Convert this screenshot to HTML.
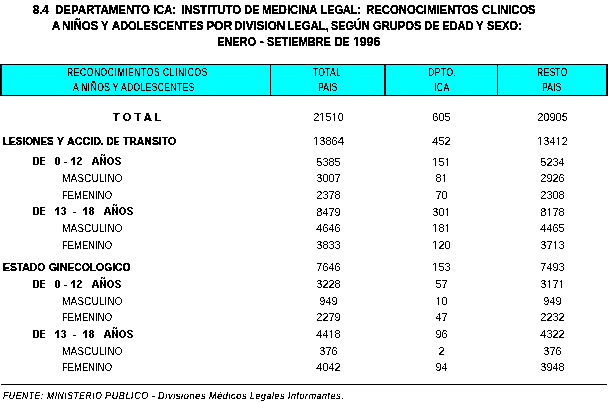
<!DOCTYPE html>
<html><head><meta charset="utf-8"><style>
html,body{margin:0;padding:0;background:#fff;}
body{width:608px;height:402px;position:relative;overflow:hidden;font-family:"Liberation Sans",sans-serif;color:#000;}
div{position:absolute;white-space:pre;transform-origin:0 0;}
.g{left:0;top:0;width:608px;height:402px;}
.ttl{font-weight:bold;font-size:12px;line-height:16px;-webkit-text-stroke:0.2px #000;}
.hd{font-size:10px;line-height:12px;}
.num{font-size:11px;line-height:14px;width:0;display:flex;justify-content:center;}
.lb{font-weight:bold;font-size:11px;line-height:14px;-webkit-text-stroke:0.2px #000;}
.sx{font-size:11px;line-height:14px;}
.ft{font-style:italic;font-size:10px;line-height:12px;text-rendering:geometricPrecision;}
</style></head><body>
<svg width="0" height="0" style="position:absolute"><filter id="tB" x="0" y="0" width="100%" height="100%" color-interpolation-filters="sRGB"><feFlood flood-color="#fff" result="w"/><feComposite in="SourceGraphic" in2="w" operator="over" result="c"/><feComponentTransfer in="c"><feFuncR type="discrete" tableValues="0 0 0 0 0 0 0 0 0 0 0 0 1 1 1 1 1 1 1 1"/></feComponentTransfer><feColorMatrix type="matrix" values="0 0 0 0 0  0 0 0 0 0  0 0 0 0 0  -1 0 0 0 1"/></filter><filter id="tR" x="0" y="0" width="100%" height="100%" color-interpolation-filters="sRGB"><feFlood flood-color="#fff" result="w"/><feComposite in="SourceGraphic" in2="w" operator="over" result="c"/><feComponentTransfer in="c"><feFuncR type="discrete" tableValues="0 0 0 0 0 0 0 0 0 0 0 1 1 1 1 1 1 1 1 1"/></feComponentTransfer><feColorMatrix type="matrix" values="0 0 0 0 0  0 0 0 0 0  0 0 0 0 0  -1 0 0 0 1"/></filter><filter id="tH" x="0" y="0" width="100%" height="100%" color-interpolation-filters="sRGB"><feFlood flood-color="#fff" result="w"/><feComposite in="SourceGraphic" in2="w" operator="over" result="c"/><feComponentTransfer in="c"><feFuncR type="discrete" tableValues="0 0 0 0 0 0 0 0 0 0 0 0 0 1 1 1 1 1 1 1"/></feComponentTransfer><feColorMatrix type="matrix" values="0 0 0 0 0  0 0 0 0 0  0 0 0 0 0  -1 0 0 0 1"/></filter><filter id="tF" x="0" y="0" width="100%" height="100%" color-interpolation-filters="sRGB"><feFlood flood-color="#fff" result="w"/><feComposite in="SourceGraphic" in2="w" operator="over" result="c"/><feComponentTransfer in="c"><feFuncR type="discrete" tableValues="0 0 0 0 0 0 0 0 0 0 0 0 0 1 1 1 1 1 1 1"/></feComponentTransfer><feColorMatrix type="matrix" values="0 0 0 0 0  0 0 0 0 0  0 0 0 0 0  -1 0 0 0 1"/></filter></svg>
<div style="left:0;top:64px;width:604px;height:30px;background:#00ffff;border-left:2px solid #000;border-right:2px solid #000;border-top:1px solid #000;border-bottom:1px solid #000;"></div>
<div style="left:270px;top:64px;width:1px;height:32px;background:#000"></div>
<div style="left:384px;top:64px;width:2px;height:32px;background:#000"></div>
<div style="left:497px;top:64px;width:1px;height:32px;background:#000"></div>
<div style="left:1px;top:384px;width:606px;height:1px;background:#000"></div>
<div class="g" style="filter:url(#tB)">
<div class="ttl" style="left:33.0px;top:2px;letter-spacing:0px;transform:scaleX(0.935)">8.4</div>
<div class="ttl" style="left:55.0px;top:2px;letter-spacing:0px;transform:scaleX(0.9554)">DEPARTAMENTO</div>
<div class="ttl" style="left:153.0px;top:2px;letter-spacing:0px;transform:scaleX(0.935)">ICA:</div>
<div class="ttl" style="left:181.0px;top:2px;letter-spacing:0px;transform:scaleX(0.9511)">INSTITUTO</div>
<div class="ttl" style="left:244.0px;top:2px;letter-spacing:0px;transform:scaleX(0.935)">DE</div>
<div class="ttl" style="left:262.0px;top:2px;letter-spacing:0px;transform:scaleX(0.935)">MEDICINA</div>
<div class="ttl" style="left:321.0px;top:2px;letter-spacing:0px;transform:scaleX(0.8888)">LEGAL:</div>
<div class="ttl" style="left:366.0px;top:2px;letter-spacing:0px;transform:scaleX(0.9435)">RECONOCIMIENTOS</div>
<div class="ttl" style="left:482.0px;top:2px;letter-spacing:0px;transform:scaleX(0.935)">CLINICOS</div>
<div class="ttl" style="left:52.0px;top:18px;letter-spacing:0px;transform:scaleX(0.93)">A</div>
<div class="ttl" style="left:62.0px;top:18px;letter-spacing:0px;transform:scaleX(0.9574)">NIÑOS</div>
<div class="ttl" style="left:101.0px;top:18px;letter-spacing:0px;transform:scaleX(0.93)">Y</div>
<div class="ttl" style="left:112.0px;top:18px;letter-spacing:0px;transform:scaleX(0.93)">ADOLESCENTES</div>
<div class="ttl" style="left:206.0px;top:18px;letter-spacing:0px;transform:scaleX(1.0109)">POR</div>
<div class="ttl" style="left:234.0px;top:18px;letter-spacing:0px;transform:scaleX(0.9712)">DIVISION</div>
<div class="ttl" style="left:287.0px;top:18px;letter-spacing:0px;transform:scaleX(0.9538)">LEGAL,</div>
<div class="ttl" style="left:331.0px;top:18px;letter-spacing:0px;transform:scaleX(0.9062)">SEGÚN</div>
<div class="ttl" style="left:373.0px;top:18px;letter-spacing:0px;transform:scaleX(0.93)">GRUPOS</div>
<div class="ttl" style="left:424.0px;top:18px;letter-spacing:0px;transform:scaleX(0.93)">DE</div>
<div class="ttl" style="left:442.0px;top:18px;letter-spacing:0px;transform:scaleX(0.93)">EDAD</div>
<div class="ttl" style="left:476.0px;top:18px;letter-spacing:0px;transform:scaleX(0.93)">Y</div>
<div class="ttl" style="left:487.0px;top:18px;letter-spacing:0px;transform:scaleX(0.9308)">SEXO:</div>
<div class="ttl" style="left:217.0px;top:34px;letter-spacing:0px;transform:scaleX(0.9167)">ENERO</div>
<div class="ttl" style="left:260.0px;top:34px;letter-spacing:0px;transform:scaleX(0.9408)">-</div>
<div class="ttl" style="left:267.0px;top:34px;letter-spacing:0px;transform:scaleX(0.9123)">SETIEMBRE</div>
<div class="ttl" style="left:335.0px;top:34px;letter-spacing:0px;transform:scaleX(0.8781)">DE</div>
<div class="ttl" style="left:353.0px;top:34px;letter-spacing:0px;transform:scaleX(1.0192)">1996</div>
<div class="lb" style="left:113.0px;top:110px;letter-spacing:0.0px">T O T A L</div>
<div class="lb cw" style="left:3.0px;top:134px;letter-spacing:0px;transform:scaleX(0.9091)">LESIONES</div>
<div class="lb cw" style="left:57.0px;top:134px;letter-spacing:0px;transform:scaleX(0.9455)">Y</div>
<div class="lb cw" style="left:67.0px;top:134px;letter-spacing:0px;transform:scaleX(0.9725)">ACCID.</div>
<div class="lb cw" style="left:107.0px;top:134px;letter-spacing:0px;transform:scaleX(0.8104)">DE</div>
<div class="lb cw" style="left:123.0px;top:134px;letter-spacing:0px;transform:scaleX(0.9455)">TRANSITO</div>
<div class="lb" style="left:64.0px;top:154px;letter-spacing:0px;transform:scaleX(0.95)">-</div>
<div class="lb" style="left:73.0px;top:204px;letter-spacing:0px;transform:scaleX(0.95)">-</div>
<div class="lb cw" style="left:3.0px;top:260px;letter-spacing:0px;transform:scaleX(0.9401)">ESTADO</div>
<div class="lb cw" style="left:49.0px;top:260px;letter-spacing:0px;transform:scaleX(0.9401)">GINECOLOGICO</div>
<div class="lb" style="left:64.0px;top:277px;letter-spacing:0px;transform:scaleX(0.95)">-</div>
<div class="lb" style="left:73.0px;top:327px;letter-spacing:0px;transform:scaleX(0.95)">-</div>
<div style="left:354px;top:44px;width:1px;height:1px;background:#fff"></div>
<div style="left:355px;top:44px;width:1px;height:1px;background:#fff"></div>
<div style="left:358px;top:44px;width:1px;height:1px;background:#fff"></div>
<div style="left:354px;top:45px;width:1px;height:1px;background:#fff"></div>
<div style="left:355px;top:45px;width:1px;height:1px;background:#fff"></div>
<div style="left:358px;top:45px;width:1px;height:1px;background:#fff"></div>
<div style="left:359px;top:45px;width:1px;height:1px;background:#fff"></div>
</div>
<div class="g" style="filter:url(#tR)">
<div class="num" style="left:328.5px;top:110px">21510</div>
<div class="num" style="left:441.5px;top:110px">605</div>
<div class="num" style="left:552.5px;top:110px">20905</div>
<div class="num" style="left:328.5px;top:134px">13864</div>
<div class="num" style="left:441.5px;top:134px">452</div>
<div class="num" style="left:552.5px;top:134px">13412</div>
<div class="num" style="left:328.5px;top:155px">5385</div>
<div class="num" style="left:441.5px;top:155px">151</div>
<div class="num" style="left:552.5px;top:155px">5234</div>
<div class="num" style="left:328.5px;top:171px">3007</div>
<div class="num" style="left:441.5px;top:171px">81</div>
<div class="num" style="left:552.5px;top:171px">2926</div>
<div class="sx" style="left:62.0px;top:171px;letter-spacing:0px;transform:scaleX(0.9257)">MASCULINO</div>
<div class="num" style="left:328.5px;top:188px">2378</div>
<div class="num" style="left:441.5px;top:188px">70</div>
<div class="num" style="left:552.5px;top:188px">2308</div>
<div class="sx" style="left:62.0px;top:188px;letter-spacing:0px;transform:scaleX(0.8612)">FEMENINO</div>
<div class="num" style="left:328.5px;top:205px">8479</div>
<div class="num" style="left:441.5px;top:205px">301</div>
<div class="num" style="left:552.5px;top:205px">8178</div>
<div class="num" style="left:328.5px;top:221px">4646</div>
<div class="num" style="left:441.5px;top:221px">181</div>
<div class="num" style="left:552.5px;top:221px">4465</div>
<div class="sx" style="left:62.0px;top:221px;letter-spacing:0px;transform:scaleX(0.9257)">MASCULINO</div>
<div class="num" style="left:328.5px;top:238px">3833</div>
<div class="num" style="left:441.5px;top:238px">120</div>
<div class="num" style="left:552.5px;top:238px">3713</div>
<div class="sx" style="left:62.0px;top:238px;letter-spacing:0px;transform:scaleX(0.8612)">FEMENINO</div>
<div class="num" style="left:328.5px;top:260px">7646</div>
<div class="num" style="left:441.5px;top:260px">153</div>
<div class="num" style="left:552.5px;top:260px">7493</div>
<div class="num" style="left:328.5px;top:277px">3228</div>
<div class="num" style="left:441.5px;top:277px">57</div>
<div class="num" style="left:552.5px;top:277px">3171</div>
<div class="num" style="left:328.5px;top:294px">949</div>
<div class="num" style="left:441.5px;top:294px">10</div>
<div class="num" style="left:552.5px;top:294px">949</div>
<div class="sx" style="left:62.0px;top:294px;letter-spacing:0px;transform:scaleX(0.9257)">MASCULINO</div>
<div class="num" style="left:328.5px;top:310px">2279</div>
<div class="num" style="left:441.5px;top:310px">47</div>
<div class="num" style="left:552.5px;top:310px">2232</div>
<div class="sx" style="left:62.0px;top:310px;letter-spacing:0px;transform:scaleX(0.8612)">FEMENINO</div>
<div class="num" style="left:328.5px;top:327px">4418</div>
<div class="num" style="left:441.5px;top:327px">96</div>
<div class="num" style="left:552.5px;top:327px">4322</div>
<div class="num" style="left:328.5px;top:344px">376</div>
<div class="num" style="left:441.5px;top:344px">2</div>
<div class="num" style="left:552.5px;top:344px">376</div>
<div class="sx" style="left:62.0px;top:344px;letter-spacing:0px;transform:scaleX(0.9257)">MASCULINO</div>
<div class="num" style="left:328.5px;top:360px">4042</div>
<div class="num" style="left:441.5px;top:360px">94</div>
<div class="num" style="left:552.5px;top:360px">3948</div>
<div class="sx" style="left:62.0px;top:360px;letter-spacing:0px;transform:scaleX(0.8612)">FEMENINO</div>
<div style="left:320px;top:120px;width:1px;height:1px;background:#fff"></div>
<div style="left:321px;top:120px;width:1px;height:1px;background:#fff"></div>
<div style="left:323px;top:120px;width:1px;height:1px;background:#fff"></div>
<div style="left:324px;top:120px;width:1px;height:1px;background:#fff"></div>
<div style="left:332px;top:120px;width:1px;height:1px;background:#fff"></div>
<div style="left:333px;top:120px;width:1px;height:1px;background:#fff"></div>
<div style="left:335px;top:120px;width:1px;height:1px;background:#fff"></div>
<div style="left:336px;top:120px;width:1px;height:1px;background:#fff"></div>
<div style="left:314px;top:144px;width:1px;height:1px;background:#fff"></div>
<div style="left:315px;top:144px;width:1px;height:1px;background:#fff"></div>
<div style="left:317px;top:144px;width:1px;height:1px;background:#fff"></div>
<div style="left:318px;top:144px;width:1px;height:1px;background:#fff"></div>
<div style="left:538px;top:144px;width:1px;height:1px;background:#fff"></div>
<div style="left:539px;top:144px;width:1px;height:1px;background:#fff"></div>
<div style="left:541px;top:144px;width:1px;height:1px;background:#fff"></div>
<div style="left:542px;top:144px;width:1px;height:1px;background:#fff"></div>
<div style="left:556px;top:144px;width:1px;height:1px;background:#fff"></div>
<div style="left:557px;top:144px;width:1px;height:1px;background:#fff"></div>
<div style="left:559px;top:144px;width:1px;height:1px;background:#fff"></div>
<div style="left:560px;top:144px;width:1px;height:1px;background:#fff"></div>
<div style="left:433px;top:165px;width:1px;height:1px;background:#fff"></div>
<div style="left:434px;top:165px;width:1px;height:1px;background:#fff"></div>
<div style="left:436px;top:165px;width:1px;height:1px;background:#fff"></div>
<div style="left:437px;top:165px;width:1px;height:1px;background:#fff"></div>
<div style="left:445px;top:165px;width:1px;height:1px;background:#fff"></div>
<div style="left:446px;top:165px;width:1px;height:1px;background:#fff"></div>
<div style="left:448px;top:165px;width:1px;height:1px;background:#fff"></div>
<div style="left:449px;top:165px;width:1px;height:1px;background:#fff"></div>
<div style="left:442px;top:181px;width:1px;height:1px;background:#fff"></div>
<div style="left:443px;top:181px;width:1px;height:1px;background:#fff"></div>
<div style="left:445px;top:181px;width:1px;height:1px;background:#fff"></div>
<div style="left:446px;top:181px;width:1px;height:1px;background:#fff"></div>
<div style="left:445px;top:215px;width:1px;height:1px;background:#fff"></div>
<div style="left:446px;top:215px;width:1px;height:1px;background:#fff"></div>
<div style="left:448px;top:215px;width:1px;height:1px;background:#fff"></div>
<div style="left:449px;top:215px;width:1px;height:1px;background:#fff"></div>
<div style="left:547px;top:215px;width:1px;height:1px;background:#fff"></div>
<div style="left:548px;top:215px;width:1px;height:1px;background:#fff"></div>
<div style="left:550px;top:215px;width:1px;height:1px;background:#fff"></div>
<div style="left:551px;top:215px;width:1px;height:1px;background:#fff"></div>
<div style="left:433px;top:231px;width:1px;height:1px;background:#fff"></div>
<div style="left:434px;top:231px;width:1px;height:1px;background:#fff"></div>
<div style="left:436px;top:231px;width:1px;height:1px;background:#fff"></div>
<div style="left:437px;top:231px;width:1px;height:1px;background:#fff"></div>
<div style="left:445px;top:231px;width:1px;height:1px;background:#fff"></div>
<div style="left:446px;top:231px;width:1px;height:1px;background:#fff"></div>
<div style="left:448px;top:231px;width:1px;height:1px;background:#fff"></div>
<div style="left:449px;top:231px;width:1px;height:1px;background:#fff"></div>
<div style="left:433px;top:248px;width:1px;height:1px;background:#fff"></div>
<div style="left:434px;top:248px;width:1px;height:1px;background:#fff"></div>
<div style="left:436px;top:248px;width:1px;height:1px;background:#fff"></div>
<div style="left:437px;top:248px;width:1px;height:1px;background:#fff"></div>
<div style="left:553px;top:248px;width:1px;height:1px;background:#fff"></div>
<div style="left:554px;top:248px;width:1px;height:1px;background:#fff"></div>
<div style="left:556px;top:248px;width:1px;height:1px;background:#fff"></div>
<div style="left:557px;top:248px;width:1px;height:1px;background:#fff"></div>
<div style="left:433px;top:270px;width:1px;height:1px;background:#fff"></div>
<div style="left:434px;top:270px;width:1px;height:1px;background:#fff"></div>
<div style="left:436px;top:270px;width:1px;height:1px;background:#fff"></div>
<div style="left:437px;top:270px;width:1px;height:1px;background:#fff"></div>
<div style="left:547px;top:287px;width:1px;height:1px;background:#fff"></div>
<div style="left:548px;top:287px;width:1px;height:1px;background:#fff"></div>
<div style="left:550px;top:287px;width:1px;height:1px;background:#fff"></div>
<div style="left:551px;top:287px;width:1px;height:1px;background:#fff"></div>
<div style="left:559px;top:287px;width:1px;height:1px;background:#fff"></div>
<div style="left:560px;top:287px;width:1px;height:1px;background:#fff"></div>
<div style="left:562px;top:287px;width:1px;height:1px;background:#fff"></div>
<div style="left:563px;top:287px;width:1px;height:1px;background:#fff"></div>
<div style="left:436px;top:304px;width:1px;height:1px;background:#fff"></div>
<div style="left:437px;top:304px;width:1px;height:1px;background:#fff"></div>
<div style="left:439px;top:304px;width:1px;height:1px;background:#fff"></div>
<div style="left:440px;top:304px;width:1px;height:1px;background:#fff"></div>
<div style="left:329px;top:337px;width:1px;height:1px;background:#fff"></div>
<div style="left:330px;top:337px;width:1px;height:1px;background:#fff"></div>
<div style="left:332px;top:337px;width:1px;height:1px;background:#fff"></div>
<div style="left:333px;top:337px;width:1px;height:1px;background:#fff"></div>
</div>
<div class="g" style="filter:url(#tH)">
<div class="hd" style="left:67.0px;top:67px;letter-spacing:0.687px;transform:scaleX(0.85)">RECONOCIMIENTOS CLINICOS</div>
<div class="hd" style="left:73.0px;top:82px;letter-spacing:0.457px;transform:scaleX(0.85)">A NIÑOS Y ADOLESCENTES</div>
<div class="hd" style="left:313.0px;top:67px;letter-spacing:0.35px;transform:scaleX(0.85)">TOTAL</div>
<div class="hd" style="left:318.0px;top:82px;letter-spacing:0.267px;transform:scaleX(0.85)">PAIS</div>
<div class="hd" style="left:428.0px;top:67px;letter-spacing:0.6px;transform:scaleX(0.85)">DPTO.</div>
<div class="hd" style="left:434.0px;top:82px;letter-spacing:0.6px;transform:scaleX(0.85)">ICA</div>
<div class="hd" style="left:537.0px;top:67px;letter-spacing:0.35px;transform:scaleX(0.85)">RESTO</div>
<div class="hd" style="left:542.0px;top:82px;letter-spacing:0.267px;transform:scaleX(0.85)">PAIS</div>
</div>
<div class="g" style="filter:url(#tF)">
<div class="ft fw" style="left:3.0px;top:391px;letter-spacing:0.694px;transform:scaleX(0.8585)">FUENTE:</div>
<div class="ft fw" style="left:47.0px;top:391px;letter-spacing:0.694px;transform:scaleX(0.8491)">MINISTERIO</div>
<div class="ft fw" style="left:105.0px;top:391px;letter-spacing:0.694px;transform:scaleX(0.901)">PUBLICO</div>
<div class="ft fw" style="left:152.0px;top:391px;letter-spacing:0.694px;transform:scaleX(0.88)">-</div>
<div class="ft fw" style="left:158.0px;top:391px;letter-spacing:0.694px;transform:scaleX(0.9191)">Divisiones</div>
<div class="ft fw" style="left:209.0px;top:391px;letter-spacing:0.694px;transform:scaleX(0.9044)">Médicos</div>
<div class="ft fw" style="left:250.0px;top:391px;letter-spacing:0.694px;transform:scaleX(0.88)">Legales</div>
<div class="ft fw" style="left:288.0px;top:391px;letter-spacing:0.694px;transform:scaleX(0.88)">Informantes.</div>
</div>
<div style="left:33px;top:157px;width:5px;height:1px;background:#000"></div>
<div style="left:33px;top:158px;width:2px;height:1px;background:#000"></div>
<div style="left:37px;top:158px;width:2px;height:1px;background:#000"></div>
<div style="left:33px;top:159px;width:2px;height:1px;background:#000"></div>
<div style="left:37px;top:159px;width:2px;height:1px;background:#000"></div>
<div style="left:33px;top:160px;width:2px;height:1px;background:#000"></div>
<div style="left:37px;top:160px;width:2px;height:1px;background:#000"></div>
<div style="left:33px;top:161px;width:2px;height:1px;background:#000"></div>
<div style="left:37px;top:161px;width:2px;height:1px;background:#000"></div>
<div style="left:33px;top:162px;width:2px;height:1px;background:#000"></div>
<div style="left:37px;top:162px;width:2px;height:1px;background:#000"></div>
<div style="left:33px;top:163px;width:2px;height:1px;background:#000"></div>
<div style="left:37px;top:163px;width:2px;height:1px;background:#000"></div>
<div style="left:33px;top:164px;width:5px;height:1px;background:#000"></div>
<div style="left:40px;top:157px;width:5px;height:1px;background:#000"></div>
<div style="left:40px;top:158px;width:2px;height:1px;background:#000"></div>
<div style="left:40px;top:159px;width:2px;height:1px;background:#000"></div>
<div style="left:40px;top:160px;width:5px;height:1px;background:#000"></div>
<div style="left:40px;top:161px;width:2px;height:1px;background:#000"></div>
<div style="left:40px;top:162px;width:2px;height:1px;background:#000"></div>
<div style="left:40px;top:163px;width:2px;height:1px;background:#000"></div>
<div style="left:40px;top:164px;width:5px;height:1px;background:#000"></div>
<div style="left:56px;top:157px;width:3px;height:1px;background:#000"></div>
<div style="left:55px;top:158px;width:2px;height:1px;background:#000"></div>
<div style="left:58px;top:158px;width:2px;height:1px;background:#000"></div>
<div style="left:55px;top:159px;width:2px;height:1px;background:#000"></div>
<div style="left:58px;top:159px;width:2px;height:1px;background:#000"></div>
<div style="left:55px;top:160px;width:2px;height:1px;background:#000"></div>
<div style="left:58px;top:160px;width:2px;height:1px;background:#000"></div>
<div style="left:55px;top:161px;width:2px;height:1px;background:#000"></div>
<div style="left:58px;top:161px;width:2px;height:1px;background:#000"></div>
<div style="left:55px;top:162px;width:2px;height:1px;background:#000"></div>
<div style="left:58px;top:162px;width:2px;height:1px;background:#000"></div>
<div style="left:55px;top:163px;width:2px;height:1px;background:#000"></div>
<div style="left:58px;top:163px;width:2px;height:1px;background:#000"></div>
<div style="left:56px;top:164px;width:3px;height:1px;background:#000"></div>
<div style="left:73px;top:157px;width:2px;height:1px;background:#000"></div>
<div style="left:72px;top:158px;width:3px;height:1px;background:#000"></div>
<div style="left:71px;top:159px;width:4px;height:1px;background:#000"></div>
<div style="left:71px;top:160px;width:1px;height:1px;background:#000"></div>
<div style="left:73px;top:160px;width:2px;height:1px;background:#000"></div>
<div style="left:73px;top:161px;width:2px;height:1px;background:#000"></div>
<div style="left:73px;top:162px;width:2px;height:1px;background:#000"></div>
<div style="left:73px;top:163px;width:2px;height:1px;background:#000"></div>
<div style="left:73px;top:164px;width:2px;height:1px;background:#000"></div>
<div style="left:78px;top:157px;width:3px;height:1px;background:#000"></div>
<div style="left:77px;top:158px;width:2px;height:1px;background:#000"></div>
<div style="left:80px;top:158px;width:2px;height:1px;background:#000"></div>
<div style="left:80px;top:159px;width:2px;height:1px;background:#000"></div>
<div style="left:79px;top:160px;width:2px;height:1px;background:#000"></div>
<div style="left:78px;top:161px;width:2px;height:1px;background:#000"></div>
<div style="left:77px;top:162px;width:2px;height:1px;background:#000"></div>
<div style="left:77px;top:163px;width:2px;height:1px;background:#000"></div>
<div style="left:77px;top:164px;width:5px;height:1px;background:#000"></div>
<div style="left:94px;top:157px;width:3px;height:1px;background:#000"></div>
<div style="left:94px;top:158px;width:3px;height:1px;background:#000"></div>
<div style="left:93px;top:159px;width:2px;height:1px;background:#000"></div>
<div style="left:96px;top:159px;width:2px;height:1px;background:#000"></div>
<div style="left:93px;top:160px;width:2px;height:1px;background:#000"></div>
<div style="left:96px;top:160px;width:2px;height:1px;background:#000"></div>
<div style="left:93px;top:161px;width:2px;height:1px;background:#000"></div>
<div style="left:96px;top:161px;width:2px;height:1px;background:#000"></div>
<div style="left:92px;top:162px;width:7px;height:1px;background:#000"></div>
<div style="left:92px;top:163px;width:2px;height:1px;background:#000"></div>
<div style="left:97px;top:163px;width:2px;height:1px;background:#000"></div>
<div style="left:92px;top:164px;width:2px;height:1px;background:#000"></div>
<div style="left:97px;top:164px;width:2px;height:1px;background:#000"></div>
<div style="left:101px;top:154px;width:2px;height:1px;background:#000"></div>
<div style="left:104px;top:154px;width:1px;height:1px;background:#000"></div>
<div style="left:101px;top:155px;width:1px;height:1px;background:#000"></div>
<div style="left:103px;top:155px;width:2px;height:1px;background:#000"></div>
<div style="left:100px;top:157px;width:2px;height:1px;background:#000"></div>
<div style="left:104px;top:157px;width:2px;height:1px;background:#000"></div>
<div style="left:100px;top:158px;width:2px;height:1px;background:#000"></div>
<div style="left:104px;top:158px;width:2px;height:1px;background:#000"></div>
<div style="left:100px;top:159px;width:3px;height:1px;background:#000"></div>
<div style="left:104px;top:159px;width:2px;height:1px;background:#000"></div>
<div style="left:100px;top:160px;width:3px;height:1px;background:#000"></div>
<div style="left:104px;top:160px;width:2px;height:1px;background:#000"></div>
<div style="left:100px;top:161px;width:2px;height:1px;background:#000"></div>
<div style="left:103px;top:161px;width:3px;height:1px;background:#000"></div>
<div style="left:100px;top:162px;width:2px;height:1px;background:#000"></div>
<div style="left:103px;top:162px;width:3px;height:1px;background:#000"></div>
<div style="left:100px;top:163px;width:2px;height:1px;background:#000"></div>
<div style="left:104px;top:163px;width:2px;height:1px;background:#000"></div>
<div style="left:100px;top:164px;width:2px;height:1px;background:#000"></div>
<div style="left:104px;top:164px;width:2px;height:1px;background:#000"></div>
<div style="left:109px;top:157px;width:3px;height:1px;background:#000"></div>
<div style="left:108px;top:158px;width:2px;height:1px;background:#000"></div>
<div style="left:111px;top:158px;width:2px;height:1px;background:#000"></div>
<div style="left:107px;top:159px;width:2px;height:1px;background:#000"></div>
<div style="left:112px;top:159px;width:2px;height:1px;background:#000"></div>
<div style="left:107px;top:160px;width:2px;height:1px;background:#000"></div>
<div style="left:112px;top:160px;width:2px;height:1px;background:#000"></div>
<div style="left:107px;top:161px;width:2px;height:1px;background:#000"></div>
<div style="left:112px;top:161px;width:2px;height:1px;background:#000"></div>
<div style="left:107px;top:162px;width:2px;height:1px;background:#000"></div>
<div style="left:112px;top:162px;width:2px;height:1px;background:#000"></div>
<div style="left:108px;top:163px;width:2px;height:1px;background:#000"></div>
<div style="left:111px;top:163px;width:2px;height:1px;background:#000"></div>
<div style="left:109px;top:164px;width:3px;height:1px;background:#000"></div>
<div style="left:116px;top:157px;width:4px;height:1px;background:#000"></div>
<div style="left:115px;top:158px;width:2px;height:1px;background:#000"></div>
<div style="left:119px;top:158px;width:2px;height:1px;background:#000"></div>
<div style="left:115px;top:159px;width:2px;height:1px;background:#000"></div>
<div style="left:116px;top:160px;width:3px;height:1px;background:#000"></div>
<div style="left:117px;top:161px;width:3px;height:1px;background:#000"></div>
<div style="left:119px;top:162px;width:2px;height:1px;background:#000"></div>
<div style="left:115px;top:163px;width:2px;height:1px;background:#000"></div>
<div style="left:119px;top:163px;width:2px;height:1px;background:#000"></div>
<div style="left:116px;top:164px;width:4px;height:1px;background:#000"></div>
<div style="left:33px;top:207px;width:5px;height:1px;background:#000"></div>
<div style="left:33px;top:208px;width:2px;height:1px;background:#000"></div>
<div style="left:37px;top:208px;width:2px;height:1px;background:#000"></div>
<div style="left:33px;top:209px;width:2px;height:1px;background:#000"></div>
<div style="left:37px;top:209px;width:2px;height:1px;background:#000"></div>
<div style="left:33px;top:210px;width:2px;height:1px;background:#000"></div>
<div style="left:37px;top:210px;width:2px;height:1px;background:#000"></div>
<div style="left:33px;top:211px;width:2px;height:1px;background:#000"></div>
<div style="left:37px;top:211px;width:2px;height:1px;background:#000"></div>
<div style="left:33px;top:212px;width:2px;height:1px;background:#000"></div>
<div style="left:37px;top:212px;width:2px;height:1px;background:#000"></div>
<div style="left:33px;top:213px;width:2px;height:1px;background:#000"></div>
<div style="left:37px;top:213px;width:2px;height:1px;background:#000"></div>
<div style="left:33px;top:214px;width:5px;height:1px;background:#000"></div>
<div style="left:40px;top:207px;width:5px;height:1px;background:#000"></div>
<div style="left:40px;top:208px;width:2px;height:1px;background:#000"></div>
<div style="left:40px;top:209px;width:2px;height:1px;background:#000"></div>
<div style="left:40px;top:210px;width:5px;height:1px;background:#000"></div>
<div style="left:40px;top:211px;width:2px;height:1px;background:#000"></div>
<div style="left:40px;top:212px;width:2px;height:1px;background:#000"></div>
<div style="left:40px;top:213px;width:2px;height:1px;background:#000"></div>
<div style="left:40px;top:214px;width:5px;height:1px;background:#000"></div>
<div style="left:57px;top:207px;width:2px;height:1px;background:#000"></div>
<div style="left:56px;top:208px;width:3px;height:1px;background:#000"></div>
<div style="left:55px;top:209px;width:4px;height:1px;background:#000"></div>
<div style="left:55px;top:210px;width:1px;height:1px;background:#000"></div>
<div style="left:57px;top:210px;width:2px;height:1px;background:#000"></div>
<div style="left:57px;top:211px;width:2px;height:1px;background:#000"></div>
<div style="left:57px;top:212px;width:2px;height:1px;background:#000"></div>
<div style="left:57px;top:213px;width:2px;height:1px;background:#000"></div>
<div style="left:57px;top:214px;width:2px;height:1px;background:#000"></div>
<div style="left:62px;top:207px;width:3px;height:1px;background:#000"></div>
<div style="left:61px;top:208px;width:2px;height:1px;background:#000"></div>
<div style="left:64px;top:208px;width:2px;height:1px;background:#000"></div>
<div style="left:64px;top:209px;width:2px;height:1px;background:#000"></div>
<div style="left:63px;top:210px;width:2px;height:1px;background:#000"></div>
<div style="left:64px;top:211px;width:2px;height:1px;background:#000"></div>
<div style="left:64px;top:212px;width:2px;height:1px;background:#000"></div>
<div style="left:61px;top:213px;width:2px;height:1px;background:#000"></div>
<div style="left:64px;top:213px;width:2px;height:1px;background:#000"></div>
<div style="left:62px;top:214px;width:3px;height:1px;background:#000"></div>
<div style="left:85px;top:207px;width:2px;height:1px;background:#000"></div>
<div style="left:84px;top:208px;width:3px;height:1px;background:#000"></div>
<div style="left:83px;top:209px;width:4px;height:1px;background:#000"></div>
<div style="left:83px;top:210px;width:1px;height:1px;background:#000"></div>
<div style="left:85px;top:210px;width:2px;height:1px;background:#000"></div>
<div style="left:85px;top:211px;width:2px;height:1px;background:#000"></div>
<div style="left:85px;top:212px;width:2px;height:1px;background:#000"></div>
<div style="left:85px;top:213px;width:2px;height:1px;background:#000"></div>
<div style="left:85px;top:214px;width:2px;height:1px;background:#000"></div>
<div style="left:90px;top:207px;width:3px;height:1px;background:#000"></div>
<div style="left:89px;top:208px;width:2px;height:1px;background:#000"></div>
<div style="left:92px;top:208px;width:2px;height:1px;background:#000"></div>
<div style="left:89px;top:209px;width:2px;height:1px;background:#000"></div>
<div style="left:92px;top:209px;width:2px;height:1px;background:#000"></div>
<div style="left:90px;top:210px;width:3px;height:1px;background:#000"></div>
<div style="left:89px;top:211px;width:2px;height:1px;background:#000"></div>
<div style="left:92px;top:211px;width:2px;height:1px;background:#000"></div>
<div style="left:89px;top:212px;width:2px;height:1px;background:#000"></div>
<div style="left:92px;top:212px;width:2px;height:1px;background:#000"></div>
<div style="left:89px;top:213px;width:2px;height:1px;background:#000"></div>
<div style="left:92px;top:213px;width:2px;height:1px;background:#000"></div>
<div style="left:90px;top:214px;width:3px;height:1px;background:#000"></div>
<div style="left:106px;top:207px;width:3px;height:1px;background:#000"></div>
<div style="left:106px;top:208px;width:3px;height:1px;background:#000"></div>
<div style="left:105px;top:209px;width:2px;height:1px;background:#000"></div>
<div style="left:108px;top:209px;width:2px;height:1px;background:#000"></div>
<div style="left:105px;top:210px;width:2px;height:1px;background:#000"></div>
<div style="left:108px;top:210px;width:2px;height:1px;background:#000"></div>
<div style="left:105px;top:211px;width:2px;height:1px;background:#000"></div>
<div style="left:108px;top:211px;width:2px;height:1px;background:#000"></div>
<div style="left:104px;top:212px;width:7px;height:1px;background:#000"></div>
<div style="left:104px;top:213px;width:2px;height:1px;background:#000"></div>
<div style="left:109px;top:213px;width:2px;height:1px;background:#000"></div>
<div style="left:104px;top:214px;width:2px;height:1px;background:#000"></div>
<div style="left:109px;top:214px;width:2px;height:1px;background:#000"></div>
<div style="left:113px;top:204px;width:2px;height:1px;background:#000"></div>
<div style="left:116px;top:204px;width:1px;height:1px;background:#000"></div>
<div style="left:113px;top:205px;width:1px;height:1px;background:#000"></div>
<div style="left:115px;top:205px;width:2px;height:1px;background:#000"></div>
<div style="left:112px;top:207px;width:2px;height:1px;background:#000"></div>
<div style="left:116px;top:207px;width:2px;height:1px;background:#000"></div>
<div style="left:112px;top:208px;width:2px;height:1px;background:#000"></div>
<div style="left:116px;top:208px;width:2px;height:1px;background:#000"></div>
<div style="left:112px;top:209px;width:3px;height:1px;background:#000"></div>
<div style="left:116px;top:209px;width:2px;height:1px;background:#000"></div>
<div style="left:112px;top:210px;width:3px;height:1px;background:#000"></div>
<div style="left:116px;top:210px;width:2px;height:1px;background:#000"></div>
<div style="left:112px;top:211px;width:2px;height:1px;background:#000"></div>
<div style="left:115px;top:211px;width:3px;height:1px;background:#000"></div>
<div style="left:112px;top:212px;width:2px;height:1px;background:#000"></div>
<div style="left:115px;top:212px;width:3px;height:1px;background:#000"></div>
<div style="left:112px;top:213px;width:2px;height:1px;background:#000"></div>
<div style="left:116px;top:213px;width:2px;height:1px;background:#000"></div>
<div style="left:112px;top:214px;width:2px;height:1px;background:#000"></div>
<div style="left:116px;top:214px;width:2px;height:1px;background:#000"></div>
<div style="left:121px;top:207px;width:3px;height:1px;background:#000"></div>
<div style="left:120px;top:208px;width:2px;height:1px;background:#000"></div>
<div style="left:123px;top:208px;width:2px;height:1px;background:#000"></div>
<div style="left:119px;top:209px;width:2px;height:1px;background:#000"></div>
<div style="left:124px;top:209px;width:2px;height:1px;background:#000"></div>
<div style="left:119px;top:210px;width:2px;height:1px;background:#000"></div>
<div style="left:124px;top:210px;width:2px;height:1px;background:#000"></div>
<div style="left:119px;top:211px;width:2px;height:1px;background:#000"></div>
<div style="left:124px;top:211px;width:2px;height:1px;background:#000"></div>
<div style="left:119px;top:212px;width:2px;height:1px;background:#000"></div>
<div style="left:124px;top:212px;width:2px;height:1px;background:#000"></div>
<div style="left:120px;top:213px;width:2px;height:1px;background:#000"></div>
<div style="left:123px;top:213px;width:2px;height:1px;background:#000"></div>
<div style="left:121px;top:214px;width:3px;height:1px;background:#000"></div>
<div style="left:128px;top:207px;width:4px;height:1px;background:#000"></div>
<div style="left:127px;top:208px;width:2px;height:1px;background:#000"></div>
<div style="left:131px;top:208px;width:2px;height:1px;background:#000"></div>
<div style="left:127px;top:209px;width:2px;height:1px;background:#000"></div>
<div style="left:128px;top:210px;width:3px;height:1px;background:#000"></div>
<div style="left:129px;top:211px;width:3px;height:1px;background:#000"></div>
<div style="left:131px;top:212px;width:2px;height:1px;background:#000"></div>
<div style="left:127px;top:213px;width:2px;height:1px;background:#000"></div>
<div style="left:131px;top:213px;width:2px;height:1px;background:#000"></div>
<div style="left:128px;top:214px;width:4px;height:1px;background:#000"></div>
<div style="left:33px;top:280px;width:5px;height:1px;background:#000"></div>
<div style="left:33px;top:281px;width:2px;height:1px;background:#000"></div>
<div style="left:37px;top:281px;width:2px;height:1px;background:#000"></div>
<div style="left:33px;top:282px;width:2px;height:1px;background:#000"></div>
<div style="left:37px;top:282px;width:2px;height:1px;background:#000"></div>
<div style="left:33px;top:283px;width:2px;height:1px;background:#000"></div>
<div style="left:37px;top:283px;width:2px;height:1px;background:#000"></div>
<div style="left:33px;top:284px;width:2px;height:1px;background:#000"></div>
<div style="left:37px;top:284px;width:2px;height:1px;background:#000"></div>
<div style="left:33px;top:285px;width:2px;height:1px;background:#000"></div>
<div style="left:37px;top:285px;width:2px;height:1px;background:#000"></div>
<div style="left:33px;top:286px;width:2px;height:1px;background:#000"></div>
<div style="left:37px;top:286px;width:2px;height:1px;background:#000"></div>
<div style="left:33px;top:287px;width:5px;height:1px;background:#000"></div>
<div style="left:40px;top:280px;width:5px;height:1px;background:#000"></div>
<div style="left:40px;top:281px;width:2px;height:1px;background:#000"></div>
<div style="left:40px;top:282px;width:2px;height:1px;background:#000"></div>
<div style="left:40px;top:283px;width:5px;height:1px;background:#000"></div>
<div style="left:40px;top:284px;width:2px;height:1px;background:#000"></div>
<div style="left:40px;top:285px;width:2px;height:1px;background:#000"></div>
<div style="left:40px;top:286px;width:2px;height:1px;background:#000"></div>
<div style="left:40px;top:287px;width:5px;height:1px;background:#000"></div>
<div style="left:56px;top:280px;width:3px;height:1px;background:#000"></div>
<div style="left:55px;top:281px;width:2px;height:1px;background:#000"></div>
<div style="left:58px;top:281px;width:2px;height:1px;background:#000"></div>
<div style="left:55px;top:282px;width:2px;height:1px;background:#000"></div>
<div style="left:58px;top:282px;width:2px;height:1px;background:#000"></div>
<div style="left:55px;top:283px;width:2px;height:1px;background:#000"></div>
<div style="left:58px;top:283px;width:2px;height:1px;background:#000"></div>
<div style="left:55px;top:284px;width:2px;height:1px;background:#000"></div>
<div style="left:58px;top:284px;width:2px;height:1px;background:#000"></div>
<div style="left:55px;top:285px;width:2px;height:1px;background:#000"></div>
<div style="left:58px;top:285px;width:2px;height:1px;background:#000"></div>
<div style="left:55px;top:286px;width:2px;height:1px;background:#000"></div>
<div style="left:58px;top:286px;width:2px;height:1px;background:#000"></div>
<div style="left:56px;top:287px;width:3px;height:1px;background:#000"></div>
<div style="left:73px;top:280px;width:2px;height:1px;background:#000"></div>
<div style="left:72px;top:281px;width:3px;height:1px;background:#000"></div>
<div style="left:71px;top:282px;width:4px;height:1px;background:#000"></div>
<div style="left:71px;top:283px;width:1px;height:1px;background:#000"></div>
<div style="left:73px;top:283px;width:2px;height:1px;background:#000"></div>
<div style="left:73px;top:284px;width:2px;height:1px;background:#000"></div>
<div style="left:73px;top:285px;width:2px;height:1px;background:#000"></div>
<div style="left:73px;top:286px;width:2px;height:1px;background:#000"></div>
<div style="left:73px;top:287px;width:2px;height:1px;background:#000"></div>
<div style="left:78px;top:280px;width:3px;height:1px;background:#000"></div>
<div style="left:77px;top:281px;width:2px;height:1px;background:#000"></div>
<div style="left:80px;top:281px;width:2px;height:1px;background:#000"></div>
<div style="left:80px;top:282px;width:2px;height:1px;background:#000"></div>
<div style="left:79px;top:283px;width:2px;height:1px;background:#000"></div>
<div style="left:78px;top:284px;width:2px;height:1px;background:#000"></div>
<div style="left:77px;top:285px;width:2px;height:1px;background:#000"></div>
<div style="left:77px;top:286px;width:2px;height:1px;background:#000"></div>
<div style="left:77px;top:287px;width:5px;height:1px;background:#000"></div>
<div style="left:94px;top:280px;width:3px;height:1px;background:#000"></div>
<div style="left:94px;top:281px;width:3px;height:1px;background:#000"></div>
<div style="left:93px;top:282px;width:2px;height:1px;background:#000"></div>
<div style="left:96px;top:282px;width:2px;height:1px;background:#000"></div>
<div style="left:93px;top:283px;width:2px;height:1px;background:#000"></div>
<div style="left:96px;top:283px;width:2px;height:1px;background:#000"></div>
<div style="left:93px;top:284px;width:2px;height:1px;background:#000"></div>
<div style="left:96px;top:284px;width:2px;height:1px;background:#000"></div>
<div style="left:92px;top:285px;width:7px;height:1px;background:#000"></div>
<div style="left:92px;top:286px;width:2px;height:1px;background:#000"></div>
<div style="left:97px;top:286px;width:2px;height:1px;background:#000"></div>
<div style="left:92px;top:287px;width:2px;height:1px;background:#000"></div>
<div style="left:97px;top:287px;width:2px;height:1px;background:#000"></div>
<div style="left:101px;top:277px;width:2px;height:1px;background:#000"></div>
<div style="left:104px;top:277px;width:1px;height:1px;background:#000"></div>
<div style="left:101px;top:278px;width:1px;height:1px;background:#000"></div>
<div style="left:103px;top:278px;width:2px;height:1px;background:#000"></div>
<div style="left:100px;top:280px;width:2px;height:1px;background:#000"></div>
<div style="left:104px;top:280px;width:2px;height:1px;background:#000"></div>
<div style="left:100px;top:281px;width:2px;height:1px;background:#000"></div>
<div style="left:104px;top:281px;width:2px;height:1px;background:#000"></div>
<div style="left:100px;top:282px;width:3px;height:1px;background:#000"></div>
<div style="left:104px;top:282px;width:2px;height:1px;background:#000"></div>
<div style="left:100px;top:283px;width:3px;height:1px;background:#000"></div>
<div style="left:104px;top:283px;width:2px;height:1px;background:#000"></div>
<div style="left:100px;top:284px;width:2px;height:1px;background:#000"></div>
<div style="left:103px;top:284px;width:3px;height:1px;background:#000"></div>
<div style="left:100px;top:285px;width:2px;height:1px;background:#000"></div>
<div style="left:103px;top:285px;width:3px;height:1px;background:#000"></div>
<div style="left:100px;top:286px;width:2px;height:1px;background:#000"></div>
<div style="left:104px;top:286px;width:2px;height:1px;background:#000"></div>
<div style="left:100px;top:287px;width:2px;height:1px;background:#000"></div>
<div style="left:104px;top:287px;width:2px;height:1px;background:#000"></div>
<div style="left:109px;top:280px;width:3px;height:1px;background:#000"></div>
<div style="left:108px;top:281px;width:2px;height:1px;background:#000"></div>
<div style="left:111px;top:281px;width:2px;height:1px;background:#000"></div>
<div style="left:107px;top:282px;width:2px;height:1px;background:#000"></div>
<div style="left:112px;top:282px;width:2px;height:1px;background:#000"></div>
<div style="left:107px;top:283px;width:2px;height:1px;background:#000"></div>
<div style="left:112px;top:283px;width:2px;height:1px;background:#000"></div>
<div style="left:107px;top:284px;width:2px;height:1px;background:#000"></div>
<div style="left:112px;top:284px;width:2px;height:1px;background:#000"></div>
<div style="left:107px;top:285px;width:2px;height:1px;background:#000"></div>
<div style="left:112px;top:285px;width:2px;height:1px;background:#000"></div>
<div style="left:108px;top:286px;width:2px;height:1px;background:#000"></div>
<div style="left:111px;top:286px;width:2px;height:1px;background:#000"></div>
<div style="left:109px;top:287px;width:3px;height:1px;background:#000"></div>
<div style="left:116px;top:280px;width:4px;height:1px;background:#000"></div>
<div style="left:115px;top:281px;width:2px;height:1px;background:#000"></div>
<div style="left:119px;top:281px;width:2px;height:1px;background:#000"></div>
<div style="left:115px;top:282px;width:2px;height:1px;background:#000"></div>
<div style="left:116px;top:283px;width:3px;height:1px;background:#000"></div>
<div style="left:117px;top:284px;width:3px;height:1px;background:#000"></div>
<div style="left:119px;top:285px;width:2px;height:1px;background:#000"></div>
<div style="left:115px;top:286px;width:2px;height:1px;background:#000"></div>
<div style="left:119px;top:286px;width:2px;height:1px;background:#000"></div>
<div style="left:116px;top:287px;width:4px;height:1px;background:#000"></div>
<div style="left:33px;top:330px;width:5px;height:1px;background:#000"></div>
<div style="left:33px;top:331px;width:2px;height:1px;background:#000"></div>
<div style="left:37px;top:331px;width:2px;height:1px;background:#000"></div>
<div style="left:33px;top:332px;width:2px;height:1px;background:#000"></div>
<div style="left:37px;top:332px;width:2px;height:1px;background:#000"></div>
<div style="left:33px;top:333px;width:2px;height:1px;background:#000"></div>
<div style="left:37px;top:333px;width:2px;height:1px;background:#000"></div>
<div style="left:33px;top:334px;width:2px;height:1px;background:#000"></div>
<div style="left:37px;top:334px;width:2px;height:1px;background:#000"></div>
<div style="left:33px;top:335px;width:2px;height:1px;background:#000"></div>
<div style="left:37px;top:335px;width:2px;height:1px;background:#000"></div>
<div style="left:33px;top:336px;width:2px;height:1px;background:#000"></div>
<div style="left:37px;top:336px;width:2px;height:1px;background:#000"></div>
<div style="left:33px;top:337px;width:5px;height:1px;background:#000"></div>
<div style="left:40px;top:330px;width:5px;height:1px;background:#000"></div>
<div style="left:40px;top:331px;width:2px;height:1px;background:#000"></div>
<div style="left:40px;top:332px;width:2px;height:1px;background:#000"></div>
<div style="left:40px;top:333px;width:5px;height:1px;background:#000"></div>
<div style="left:40px;top:334px;width:2px;height:1px;background:#000"></div>
<div style="left:40px;top:335px;width:2px;height:1px;background:#000"></div>
<div style="left:40px;top:336px;width:2px;height:1px;background:#000"></div>
<div style="left:40px;top:337px;width:5px;height:1px;background:#000"></div>
<div style="left:57px;top:330px;width:2px;height:1px;background:#000"></div>
<div style="left:56px;top:331px;width:3px;height:1px;background:#000"></div>
<div style="left:55px;top:332px;width:4px;height:1px;background:#000"></div>
<div style="left:55px;top:333px;width:1px;height:1px;background:#000"></div>
<div style="left:57px;top:333px;width:2px;height:1px;background:#000"></div>
<div style="left:57px;top:334px;width:2px;height:1px;background:#000"></div>
<div style="left:57px;top:335px;width:2px;height:1px;background:#000"></div>
<div style="left:57px;top:336px;width:2px;height:1px;background:#000"></div>
<div style="left:57px;top:337px;width:2px;height:1px;background:#000"></div>
<div style="left:62px;top:330px;width:3px;height:1px;background:#000"></div>
<div style="left:61px;top:331px;width:2px;height:1px;background:#000"></div>
<div style="left:64px;top:331px;width:2px;height:1px;background:#000"></div>
<div style="left:64px;top:332px;width:2px;height:1px;background:#000"></div>
<div style="left:63px;top:333px;width:2px;height:1px;background:#000"></div>
<div style="left:64px;top:334px;width:2px;height:1px;background:#000"></div>
<div style="left:64px;top:335px;width:2px;height:1px;background:#000"></div>
<div style="left:61px;top:336px;width:2px;height:1px;background:#000"></div>
<div style="left:64px;top:336px;width:2px;height:1px;background:#000"></div>
<div style="left:62px;top:337px;width:3px;height:1px;background:#000"></div>
<div style="left:85px;top:330px;width:2px;height:1px;background:#000"></div>
<div style="left:84px;top:331px;width:3px;height:1px;background:#000"></div>
<div style="left:83px;top:332px;width:4px;height:1px;background:#000"></div>
<div style="left:83px;top:333px;width:1px;height:1px;background:#000"></div>
<div style="left:85px;top:333px;width:2px;height:1px;background:#000"></div>
<div style="left:85px;top:334px;width:2px;height:1px;background:#000"></div>
<div style="left:85px;top:335px;width:2px;height:1px;background:#000"></div>
<div style="left:85px;top:336px;width:2px;height:1px;background:#000"></div>
<div style="left:85px;top:337px;width:2px;height:1px;background:#000"></div>
<div style="left:90px;top:330px;width:3px;height:1px;background:#000"></div>
<div style="left:89px;top:331px;width:2px;height:1px;background:#000"></div>
<div style="left:92px;top:331px;width:2px;height:1px;background:#000"></div>
<div style="left:89px;top:332px;width:2px;height:1px;background:#000"></div>
<div style="left:92px;top:332px;width:2px;height:1px;background:#000"></div>
<div style="left:90px;top:333px;width:3px;height:1px;background:#000"></div>
<div style="left:89px;top:334px;width:2px;height:1px;background:#000"></div>
<div style="left:92px;top:334px;width:2px;height:1px;background:#000"></div>
<div style="left:89px;top:335px;width:2px;height:1px;background:#000"></div>
<div style="left:92px;top:335px;width:2px;height:1px;background:#000"></div>
<div style="left:89px;top:336px;width:2px;height:1px;background:#000"></div>
<div style="left:92px;top:336px;width:2px;height:1px;background:#000"></div>
<div style="left:90px;top:337px;width:3px;height:1px;background:#000"></div>
<div style="left:106px;top:330px;width:3px;height:1px;background:#000"></div>
<div style="left:106px;top:331px;width:3px;height:1px;background:#000"></div>
<div style="left:105px;top:332px;width:2px;height:1px;background:#000"></div>
<div style="left:108px;top:332px;width:2px;height:1px;background:#000"></div>
<div style="left:105px;top:333px;width:2px;height:1px;background:#000"></div>
<div style="left:108px;top:333px;width:2px;height:1px;background:#000"></div>
<div style="left:105px;top:334px;width:2px;height:1px;background:#000"></div>
<div style="left:108px;top:334px;width:2px;height:1px;background:#000"></div>
<div style="left:104px;top:335px;width:7px;height:1px;background:#000"></div>
<div style="left:104px;top:336px;width:2px;height:1px;background:#000"></div>
<div style="left:109px;top:336px;width:2px;height:1px;background:#000"></div>
<div style="left:104px;top:337px;width:2px;height:1px;background:#000"></div>
<div style="left:109px;top:337px;width:2px;height:1px;background:#000"></div>
<div style="left:113px;top:327px;width:2px;height:1px;background:#000"></div>
<div style="left:116px;top:327px;width:1px;height:1px;background:#000"></div>
<div style="left:113px;top:328px;width:1px;height:1px;background:#000"></div>
<div style="left:115px;top:328px;width:2px;height:1px;background:#000"></div>
<div style="left:112px;top:330px;width:2px;height:1px;background:#000"></div>
<div style="left:116px;top:330px;width:2px;height:1px;background:#000"></div>
<div style="left:112px;top:331px;width:2px;height:1px;background:#000"></div>
<div style="left:116px;top:331px;width:2px;height:1px;background:#000"></div>
<div style="left:112px;top:332px;width:3px;height:1px;background:#000"></div>
<div style="left:116px;top:332px;width:2px;height:1px;background:#000"></div>
<div style="left:112px;top:333px;width:3px;height:1px;background:#000"></div>
<div style="left:116px;top:333px;width:2px;height:1px;background:#000"></div>
<div style="left:112px;top:334px;width:2px;height:1px;background:#000"></div>
<div style="left:115px;top:334px;width:3px;height:1px;background:#000"></div>
<div style="left:112px;top:335px;width:2px;height:1px;background:#000"></div>
<div style="left:115px;top:335px;width:3px;height:1px;background:#000"></div>
<div style="left:112px;top:336px;width:2px;height:1px;background:#000"></div>
<div style="left:116px;top:336px;width:2px;height:1px;background:#000"></div>
<div style="left:112px;top:337px;width:2px;height:1px;background:#000"></div>
<div style="left:116px;top:337px;width:2px;height:1px;background:#000"></div>
<div style="left:121px;top:330px;width:3px;height:1px;background:#000"></div>
<div style="left:120px;top:331px;width:2px;height:1px;background:#000"></div>
<div style="left:123px;top:331px;width:2px;height:1px;background:#000"></div>
<div style="left:119px;top:332px;width:2px;height:1px;background:#000"></div>
<div style="left:124px;top:332px;width:2px;height:1px;background:#000"></div>
<div style="left:119px;top:333px;width:2px;height:1px;background:#000"></div>
<div style="left:124px;top:333px;width:2px;height:1px;background:#000"></div>
<div style="left:119px;top:334px;width:2px;height:1px;background:#000"></div>
<div style="left:124px;top:334px;width:2px;height:1px;background:#000"></div>
<div style="left:119px;top:335px;width:2px;height:1px;background:#000"></div>
<div style="left:124px;top:335px;width:2px;height:1px;background:#000"></div>
<div style="left:120px;top:336px;width:2px;height:1px;background:#000"></div>
<div style="left:123px;top:336px;width:2px;height:1px;background:#000"></div>
<div style="left:121px;top:337px;width:3px;height:1px;background:#000"></div>
<div style="left:128px;top:330px;width:4px;height:1px;background:#000"></div>
<div style="left:127px;top:331px;width:2px;height:1px;background:#000"></div>
<div style="left:131px;top:331px;width:2px;height:1px;background:#000"></div>
<div style="left:127px;top:332px;width:2px;height:1px;background:#000"></div>
<div style="left:128px;top:333px;width:3px;height:1px;background:#000"></div>
<div style="left:129px;top:334px;width:3px;height:1px;background:#000"></div>
<div style="left:131px;top:335px;width:2px;height:1px;background:#000"></div>
<div style="left:127px;top:336px;width:2px;height:1px;background:#000"></div>
<div style="left:131px;top:336px;width:2px;height:1px;background:#000"></div>
<div style="left:128px;top:337px;width:4px;height:1px;background:#000"></div>
</body></html>
